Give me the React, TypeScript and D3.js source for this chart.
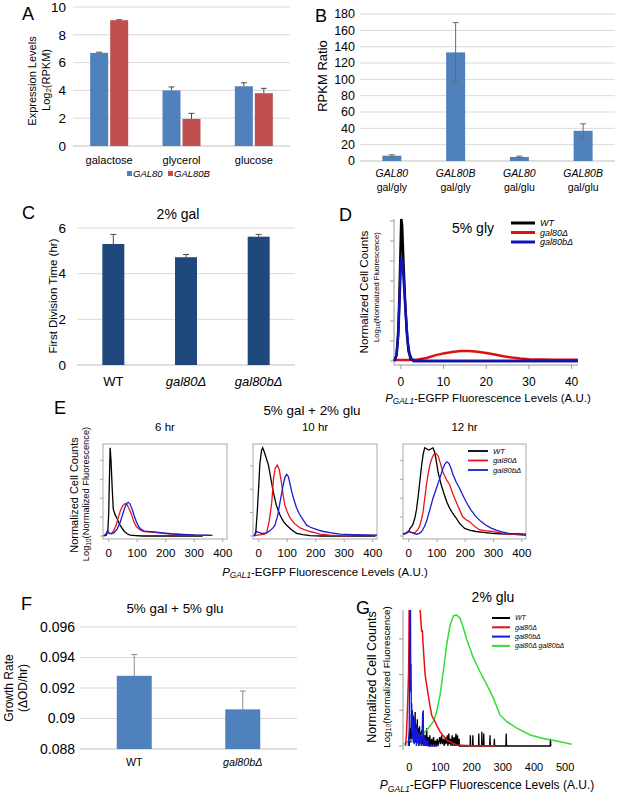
import React from "react";
import * as d3 from "d3";

const FONT = "'Liberation Sans', Arial, Helvetica, sans-serif";
const BLUE = "#4F81BD";
const RED = "#C0504D";
const NAVY = "#1F497D";
const GRID = "#D9D9D9";
const ERR = "#4a4a4a";

// ---------- Panel A ----------
const aCategories = ["galactose", "glycerol", "glucose"];
const aSeries = ["GAL80", "GAL80B"];
const aGal80 = [6.7, 4.0, 4.3];
const aGal80Err = [0.05, 0.25, 0.25];
const aGal80B = [9.05, 1.95, 3.8];
const aGal80BErr = [0.03, 0.4, 0.35];
const aTicks = [0, 2, 4, 6, 8, 10];

// ---------- Panel B ----------
const bGenes = ["GAL80", "GAL80B", "GAL80", "GAL80B"];
const bRatios = ["gal/gly", "gal/gly", "gal/glu", "gal/glu"];
const bValues = [6.5, 133, 5, 37];
const bErr = [1.2, 36.5, 1.0, 8.5];
const bTicks = [0, 20, 40, 60, 80, 100, 120, 140, 160, 180];

// ---------- Panel C ----------
const cStrains = ["WT", "gal80Δ", "gal80bΔ"];
const cValues = [5.3, 4.72, 5.62];
const cErr = [0.42, 0.12, 0.1];
const cTicks = [0, 2, 4, 6];

// ---------- Panel D ----------
const dTicks = [0, 10, 20, 30, 40];
const dYTicks = [0, 1, 2, 3, 4, 5, 6, 7];
const dWT: [number, number][] = [[-1.5, 0], [-1, 0.3], [-0.6, 1.5], [-0.3, 3.5], [0, 6.2], [0.1, 7.1], [0.3, 6.8], [0.6, 5.0], [1, 3.0], [1.4, 1.4], [1.8, 0.5], [2.3, 0.1], [3, 0], [41.5, 0]];
const dGal80: [number, number][] = [[-1.5, 0.05], [2, 0.05], [4, 0.07], [6, 0.15], [8, 0.28], [10, 0.38], [12, 0.45], [14, 0.5], [16, 0.5], [18, 0.46], [20, 0.4], [22, 0.32], [24, 0.24], [26, 0.17], [28, 0.12], [30, 0.09], [33, 0.07], [36, 0.06], [41.5, 0.06]];
const dGal80b: [number, number][] = [[-1.5, 0], [-1, 0.3], [-0.6, 1.3], [-0.3, 3.0], [0, 4.9], [0.2, 5.15], [0.4, 4.9], [0.8, 3.6], [1.2, 2.2], [1.6, 1.0], [2, 0.4], [2.5, 0.1], [3, 0], [41.5, 0]];

// ---------- Panel E ----------
const eTimes = ["6 hr", "10 hr", "12 hr"];
const eTicks = [0, 100, 200, 300, 400];
const e6YTicks = [0, 21, 42, 63, 84];
const e10YTicks = [0, 26, 52, 78];
const e12YTicks = [0, 21, 42, 63, 84];
const e6WT: [number, number][] = [[-15, 0], [-8, 1], [-3, 6], [0, 25], [3, 70], [5, 98], [8, 85], [12, 55], [16, 30], [22, 24], [30, 19], [38, 13], [46, 9], [55, 5], [65, 2.5], [75, 1], [95, 0.5], [120, 0], [330, 0]];
const e6Gal80: [number, number][] = [[-18, 0], [-10, 2], [-4, 5], [2, 3], [10, 3], [18, 6], [26, 12], [34, 21], [42, 29], [50, 34], [58, 36], [64, 35], [72, 30], [80, 24], [88, 16], [96, 11], [105, 8], [115, 6], [125, 5], [140, 4.5], [160, 4], [190, 3], [220, 2], [260, 1.5], [300, 1], [340, 0.8], [365, 0.6]];
const e6Gal80b: [number, number][] = [[-18, 0], [-10, 2], [-4, 6], [2, 3], [10, 2.5], [20, 4], [30, 8], [40, 15], [48, 23], [56, 31], [63, 36], [68, 37.5], [74, 36], [82, 30], [90, 22], [98, 15], [106, 10], [115, 7], [125, 5.5], [140, 5], [160, 4.5], [190, 3.5], [220, 2.5], [260, 1.8], [300, 1.2], [340, 0.9], [360, 0.8]];
const e10WT: [number, number][] = [[-15, 0], [-10, 5], [-5, 27], [0, 55], [4, 80], [10, 95], [14, 98], [20, 93], [28, 85], [34, 79], [42, 65], [51, 49], [62, 34], [75, 23], [87, 16], [98, 12], [115, 7], [133, 3], [155, 1.5], [180, 0.5], [220, 0], [410, 0]];
const e10Gal80: [number, number][] = [[-15, 0], [-5, 1], [10, 1.5], [20, 2], [28, 4], [36, 15], [42, 28], [46, 38], [52, 64], [58, 75], [65, 79], [72, 74], [81, 57], [86, 45], [92, 34], [100, 27], [110, 20], [125, 14], [145, 9], [160, 7], [180, 5], [200, 3.5], [215, 2], [250, 1], [285, 0.5], [330, 0.3]];
const e10Gal80b: [number, number][] = [[-18, 0], [-12, 2], [-7, 5], [0, 4], [10, 3], [20, 3], [28, 3.5], [40, 6], [50, 9], [57, 12], [66, 22], [75, 38], [86, 57], [93, 66], [98, 68.5], [104, 66], [110, 58], [116, 49], [124, 40], [133, 31], [142, 25], [151, 20], [160, 16], [168, 12], [180, 10], [192, 8.5], [210, 6.5], [227, 5], [255, 3.5], [285, 2], [330, 1.5], [380, 1.2], [415, 1]];
const e12WT: [number, number][] = [[-20, 2], [-10, 3], [0, 5], [5, 8.5], [14, 12], [22, 20], [28, 30], [34, 45], [40, 62], [46, 79], [52, 92], [57, 98], [63, 97], [72, 95.5], [80, 97], [86, 98], [92, 93], [98, 83], [104, 71], [115, 57], [127, 45], [136, 37], [145, 31], [156, 25], [168, 20], [180, 14], [198, 8.5], [215, 6.5], [238, 5], [265, 4], [295, 3], [325, 2.5], [354, 2], [385, 1.5], [415, 1]];
const e12Gal80: [number, number][] = [[-20, 2], [-10, 3.5], [0, 5.5], [10, 4], [22, 3.5], [32, 7], [40, 12], [46, 19], [51, 27], [57, 42], [63, 57], [69, 69], [75, 79], [83, 87], [90, 91], [96, 92], [104, 89], [112, 81], [121, 71], [133, 63], [145, 57], [156, 47], [168, 38], [180, 29], [192, 21], [203, 18], [215, 16], [232, 11], [250, 7], [270, 6], [295, 5], [325, 3.5], [354, 2], [385, 1.8], [415, 1.5]];
const e12Gal80b: [number, number][] = [[-20, 2], [-10, 3], [0, 5], [8, 4], [18, 3], [28, 2], [38, 3], [46, 5], [55, 10], [63, 16], [74, 28], [86, 42], [95, 50], [104, 58.5], [112, 66], [121, 75], [128, 80], [135, 82.5], [142, 81], [150, 75], [157, 68], [168, 60], [180, 53], [192, 45], [203, 38], [220, 29], [238, 21.5], [256, 16], [274, 12], [290, 9], [309, 6.5], [330, 4.5], [354, 3], [385, 2.5], [415, 2]];

// ---------- Panel F ----------
const fStrains = ["WT", "gal80bΔ"];
const fValues = [0.0928, 0.0906];
const fErr = [0.0014, 0.0012];
const fTicks = [0.088, 0.09, 0.092, 0.094, 0.096];
const fTickLabels = ["0.088", "0.09", "0.092", "0.094", "0.096"];

// ---------- Panel G ----------
const gTicks = [0, 100, 200, 300, 400, 500];
const gYTicks = [0, 1, 2, 3];
const gLegend = ["WT", "gal80Δ", "gal80bΔ", "gal80Δ gal80bΔ"];
const gWT: [number, number][] = [[0, 0], [3, 0.5], [5, 0.1], [7, 0.9], [8, 0.2], [10, 1.0], [11, 0.3], [13, 0.85], [14, 0.1], [16, 0.7], [17, 0.2], [19, 0.95], [20, 0.1], [22, 0.6], [24, 0.05], [26, 0.75], [27, 0.1], [29, 0.5], [31, 0], [33, 0.55], [35, 0.1], [37, 0.4], [39, 0], [41, 0.45], [43, 0.05], [46, 0.35], [48, 0], [51, 0.3], [53, 0], [56, 0.5], [58, 0], [61, 0.25], [63, 0], [66, 0.3], [68, 0], [72, 0.2], [74, 0], [78, 0.25], [80, 0], [84, 0.15], [86, 0], [90, 0.2], [92, 0], [98, 0.25], [100, 0.05], [104, 0.3], [106, 0.05], [110, 0.2], [112, 0], [116, 0.25], [118, 0.05], [122, 0.3], [124, 0], [127, 0.35], [129, 0.05], [132, 0.2], [134, 0], [138, 0.3], [140, 0], [144, 0.25], [146, 0], [150, 0.35], [151, 0], [155, 0.3], [156, 0], [160, 0.2], [161, 0], [195, 0], [196, 0.3], [197, 0], [203, 0], [204, 0.3], [205, 0], [222, 0], [223, 0.35], [224, 0], [232, 0], [233, 0.4], [234, 0], [238, 0], [239, 0.35], [240, 0], [258, 0], [259, 0.3], [260, 0], [272, 0], [273, 0.2], [274, 0], [310, 0], [311, 0.35], [312, 0], [452, 0], [453, 0.2], [454, 0]];
const gGal80: [number, number][] = [[-12, 0], [-9, 0.3], [-6, 0.96], [-4, 1.5], [-2, 2.1], [-1, 3], [0, 4.2], [10, 5.5], [25, 5], [35, 3.85], [38, 3.4], [40, 3.2], [42, 3.25], [44, 2.9], [47, 2.5], [51, 2.0], [56, 1.7], [61, 1.43], [66, 1.15], [72, 0.87], [76, 0.78], [80, 0.74], [83, 0.68], [90, 0.55], [99, 0.4], [110, 0.28], [120, 0.17], [135, 0.1], [152, 0.03], [200, 0.01], [275, 0.01]];
const gGal80b: [number, number][] = [[-3, 0], [0, 0.5], [1, 2], [2, 4.2], [4, 4.2], [5, 1.5], [6, 2.3], [7, 0.4], [8, 1.2], [10, 0.2], [11, 0.9], [13, 0.1], [14, 0.7], [16, 0.05], [18, 0.8], [19, 0.1], [21, 0.5], [23, 0], [25, 0.6], [27, 0.1], [29, 0.35], [31, 0], [33, 0.4], [35, 0.05], [38, 0.3], [40, 0], [43, 0.9], [45, 1.0], [46, 0], [48, 0.3], [50, 0], [54, 0.2], [56, 0], [60, 0.15], [62, 0], [70, 0], [90, 0]];
const gDouble: [number, number][] = [[-17, 0.05], [3, 0.17], [35, 0.26], [61, 0.5], [77, 0.68], [88, 0.96], [99, 1.43], [109, 2.08], [120, 2.83], [131, 3.39], [142, 3.65], [152, 3.67], [163, 3.58], [174, 3.3], [184, 3.0], [206, 2.46], [227, 2.08], [249, 1.71], [270, 1.34], [291, 0.87], [313, 0.68], [345, 0.5], [388, 0.31], [430, 0.21], [473, 0.14], [521, 0.05]];

// ---------- helpers ----------
function ErrUp({ x, y0, y1, cap = 3 }: { x: number; y0: number; y1: number; cap?: number }) {
  return (
    <g stroke={ERR} strokeWidth={1}>
      <line x1={x} x2={x} y1={y0} y2={y1} />
      <line x1={x - cap} x2={x + cap} y1={y1} y2={y1} />
    </g>
  );
}

function PanelLetter({ x, y, t }: { x: number; y: number; t: string }) {
  return <text x={x} y={y} fontSize={18}>{t}</text>;
}

function Rot({ x, y, size, children, style }: any) {
  return (
    <text transform={`translate(${x},${y}) rotate(-90)`} textAnchor="middle" dominantBaseline="central" fontSize={size} style={style}>
      {children}
    </text>
  );
}

function PgalTitle({ x, y, size }: { x: number; y: number; size: number }) {
  return (
    <text x={x} y={y} textAnchor="middle" fontSize={size}>
      <tspan fontStyle="italic">P</tspan>
      <tspan fontStyle="italic" fontSize={size * 0.72} dy="0.3em">GAL1</tspan>
      <tspan dy={`${-0.3 * 0.72}em`}>-EGFP Fluorescence Levels (A.U.)</tspan>
    </text>
  );
}

function LogTitle({ x, y, size }: { x: number; y: number; size: number }) {
  return (
    <Rot x={x} y={y} size={size}>
      <tspan>Log</tspan>
      <tspan fontSize={size * 0.7} dy="0.3em">10</tspan>
      <tspan dy="-0.21em">(Normalized Fluorescence)</tspan>
    </Rot>
  );
}

// ---------- panels ----------
function PanelA() {
  const x0 = d3.scaleBand().domain(aCategories).range([73, 290]);
  const x1 = d3.scaleBand().domain(aSeries).range([0, 38]).paddingInner(0.1);
  const y = d3.scaleLinear().domain([0, 10]).range([146, 7]);
  const series = [
    { name: "GAL80", vals: aGal80, err: aGal80Err, color: BLUE },
    { name: "GAL80B", vals: aGal80B, err: aGal80BErr, color: RED },
  ];
  return (
    <g>
      <PanelLetter x={22} y={20} t="A" />
      {aTicks.map((t) => (
        <g key={t}>
          <line x1={73} x2={290} y1={y(t)} y2={y(t)} stroke={t === 0 ? "#BFBFBF" : GRID} />
          <text x={66} y={y(t)} dy="0.35em" textAnchor="end" fontSize={13.5}>{t}</text>
        </g>
      ))}
      {aCategories.map((c, i) => {
        const cx = x0(c)! + x0.bandwidth() / 2;
        return (
          <g key={c}>
            {series.map((s) => {
              const bx = cx - 19 + x1(s.name)!;
              return (
                <g key={s.name}>
                  <rect x={bx} y={y(s.vals[i])} width={x1.bandwidth()} height={y(0) - y(s.vals[i])} fill={s.color} />
                  <ErrUp x={bx + x1.bandwidth() / 2} y0={y(s.vals[i])} y1={y(s.vals[i] + s.err[i])} />
                </g>
              );
            })}
            <text x={cx} y={164} textAnchor="middle" fontSize={11}>{c}</text>
          </g>
        );
      })}
      <Rot x={32} y={81} size={11}>Expression Levels</Rot>
      <Rot x={46} y={80} size={11}>
        <tspan>Log</tspan>
        <tspan fontSize={8} dy="0.3em">2</tspan>
        <tspan dy="-0.22em">(RPKM)</tspan>
      </Rot>
      <g fontSize={9.5} fontStyle="italic">
        <rect x={127} y={171} width={5} height={5} fill={BLUE} />
        <text x={133} y={177}>{aSeries[0]}</text>
        <rect x={168} y={171} width={5} height={5} fill={RED} />
        <text x={174} y={177}>{aSeries[1]}</text>
      </g>
    </g>
  );
}

function PanelB() {
  const idx = bValues.map((_, i) => String(i));
  const x = d3.scaleBand().domain(idx).range([360, 615]);
  const y = d3.scaleLinear().domain([0, 180]).range([161, 14]);
  const bw = 19;
  return (
    <g>
      <PanelLetter x={315} y={22} t="B" />
      {bTicks.map((t) => (
        <g key={t}>
          <line x1={360} x2={615} y1={y(t)} y2={y(t)} stroke={t === 0 ? "#BFBFBF" : GRID} />
          <text x={355} y={y(t)} dy="0.35em" textAnchor="end" fontSize={12.5}>{t}</text>
        </g>
      ))}
      {bValues.map((v, i) => {
        const cx = x(String(i))! + x.bandwidth() / 2;
        return (
          <g key={i}>
            <rect x={cx - bw / 2} y={y(v)} width={bw} height={y(0) - y(v)} fill={BLUE} />
            <g stroke="#6a6a6a" strokeWidth={1}>
              <line x1={cx} x2={cx} y1={y(v - bErr[i])} y2={y(v + bErr[i])} />
              <line x1={cx - 3} x2={cx + 3} y1={y(v + bErr[i])} y2={y(v + bErr[i])} />
              <line x1={cx - 3} x2={cx + 3} y1={y(v - bErr[i])} y2={y(v - bErr[i])} />
            </g>
            <text x={cx} y={177} textAnchor="middle" fontSize={10.5} fontStyle="italic">{bGenes[i]}</text>
            <text x={cx} y={191} textAnchor="middle" fontSize={10.5}>{bRatios[i]}</text>
          </g>
        );
      })}
      <Rot x={322} y={76} size={13}>RPKM Ratio</Rot>
    </g>
  );
}

function PanelC() {
  const x = d3.scaleBand().domain(cStrains).range([77, 295]);
  const y = d3.scaleLinear().domain([0, 6]).range([365, 228]);
  const bw = 22;
  return (
    <g>
      <PanelLetter x={22} y={219} t="C" />
      <text x={178} y={219} textAnchor="middle" fontSize={14}>2% gal</text>
      {cTicks.map((t) => (
        <g key={t}>
          <line x1={77} x2={295} y1={y(t)} y2={y(t)} stroke={t === 0 ? "#BFBFBF" : GRID} />
          <text x={66} y={y(t)} dy="0.35em" textAnchor="end" fontSize={13.5}>{t}</text>
        </g>
      ))}
      {cStrains.map((s, i) => {
        const cx = x(s)! + x.bandwidth() / 2;
        return (
          <g key={s}>
            <rect x={cx - bw / 2} y={y(cValues[i])} width={bw} height={y(0) - y(cValues[i])} fill={NAVY} />
            <ErrUp x={cx} y0={y(cValues[i])} y1={y(cValues[i] + cErr[i])} />
            <text x={cx} y={386} textAnchor="middle" fontSize={13} fontStyle={i === 0 ? "normal" : "italic"}>{s}</text>
          </g>
        );
      })}
      <Rot x={53} y={296} size={11.5}>First Division Time (hr)</Rot>
    </g>
  );
}

function Legend({ x, y, dy, len, labels, colors, size, width }: any) {
  return (
    <g>
      {labels.map((l: string, i: number) => (
        <g key={i}>
          <line x1={x} x2={x + len} y1={y + i * dy} y2={y + i * dy} stroke={colors[i]} strokeWidth={width} />
          <text x={x + len + 5} y={y + i * dy} dy="0.35em" fontSize={size} fontStyle="italic">{l}</text>
        </g>
      ))}
    </g>
  );
}

function PanelD() {
  const x = d3.scaleLinear().domain([-1.6, 41.5]).range([394, 578]);
  const y = d3.scaleLinear().domain([0, 7]).range([361, 221]);
  const line = d3.line<[number, number]>().x((d) => x(d[0])).y((d) => y(d[1]));
  const AX = "#9a9a9a";
  return (
    <g>
      <PanelLetter x={339} y={221} t="D" />
      <line x1={394} x2={394} y1={219} y2={365} stroke={AX} />
      <line x1={394} x2={578} y1={365} y2={365} stroke={AX} />
      {dYTicks.map((t) => (
        <line key={t} x1={390} x2={394} y1={y(t)} y2={y(t)} stroke={AX} />
      ))}
      {dTicks.map((t) => (
        <g key={t}>
          <line x1={x(t)} x2={x(t)} y1={365} y2={369} stroke={AX} />
          <text x={x(t)} y={386} textAnchor="middle" fontSize={12}>{t}</text>
        </g>
      ))}
      <path d={line(dGal80)!} fill="none" stroke="#E01010" strokeWidth={2.5} />
      <path d={line(dWT)!} fill="none" stroke="#000" strokeWidth={2.5} />
      <path d={line(dGal80b)!} fill="none" stroke="#1212B8" strokeWidth={2.5} />
      <text x={473} y={233} textAnchor="middle" fontSize={14}>5% gly</text>
      <Legend x={511} y={223} dy={9.5} len={24} labels={["WT", "gal80Δ", "gal80bΔ"]} colors={["#000", "#E01010", "#1212B8"]} size={9} width={3} />
      <Rot x={363} y={292} size={11.7}>Normalized Cell Counts</Rot>
      <LogTitle x={376} y={287} size={7.6} />
      <PgalTitle x={488} y={402} size={11.5} />
    </g>
  );
}

function EBox({ x0, x1, title, data, yTicks, legend }: any) {
  const top = 444, bot = 539;
  const x = d3.scaleLinear().domain([-20, 415]).range([x0, x1]);
  const y = d3.scaleLinear().domain([0, 100]).range([536, 446]);
  const line = d3.line<[number, number]>().x((d) => x(d[0])).y((d) => y(d[1]));
  const AX = "#a8a8a8";
  const colors = ["#000", "#E8141C", "#1B1BD6"];
  return (
    <g>
      <text x={(x0 + x1) / 2} y={431} textAnchor="middle" fontSize={11.5}>{title}</text>
      <rect x={x0} y={top} width={x1 - x0} height={bot - top} fill="none" stroke={AX} />
      {yTicks.map((t: number) => (
        <line key={t} x1={x0 - 3} x2={x0} y1={y(t)} y2={y(t)} stroke={AX} />
      ))}
      {eTicks.map((t) => (
        <g key={t}>
          <line x1={x(t)} x2={x(t)} y1={bot} y2={bot + 3} stroke={AX} />
          <text x={x(t)} y={557} textAnchor="middle" fontSize={11.5}>{t}</text>
        </g>
      ))}
      {data.map((d: [number, number][], i: number) => (
        <path key={i} d={line(d)!} fill="none" stroke={colors[i]} strokeWidth={1.3} />
      ))}
      {legend && (
        <Legend x={468} y={451} dy={9.5} len={20} labels={["WT", "gal80Δ", "gal80bΔ"]} colors={colors} size={7.7} width={1.8} />
      )}
    </g>
  );
}

function PanelE() {
  return (
    <g>
      <PanelLetter x={54} y={414} t="E" />
      <text x={312} y={415} textAnchor="middle" fontSize={13.4}>5% gal + 2% glu</text>
      <EBox x0={103} x1={227} title={eTimes[0]} data={[e6WT, e6Gal80, e6Gal80b]} yTicks={e6YTicks} />
      <EBox x0={253} x1={377} title={eTimes[1]} data={[e10WT, e10Gal80, e10Gal80b]} yTicks={e10YTicks} />
      <EBox x0={403} x1={526} title={eTimes[2]} data={[e12WT, e12Gal80, e12Gal80b]} yTicks={e12YTicks} legend />
      <Rot x={74} y={495} size={11}>Normalized Cell Counts</Rot>
      <LogTitle x={86} y={494} size={9.3} />
      <PgalTitle x={325} y={576} size={11.5} />
    </g>
  );
}

function PanelF() {
  const x = d3.scaleBand().domain(fStrains).range([80, 297]);
  const y = d3.scaleLinear().domain([0.088, 0.096]).range([749, 627]);
  const bw = 35;
  return (
    <g>
      <PanelLetter x={21} y={610} t="F" />
      <text x={175} y={613} textAnchor="middle" fontSize={13.4}>5% gal + 5% glu</text>
      {fTicks.map((t, i) => (
        <g key={t}>
          <line x1={80} x2={297} y1={y(t)} y2={y(t)} stroke={i === 0 ? "#BFBFBF" : GRID} />
          <text x={75} y={y(t)} dy="0.35em" textAnchor="end" fontSize={14}>{fTickLabels[i]}</text>
        </g>
      ))}
      {fStrains.map((s, i) => {
        const cx = x(s)! + x.bandwidth() / 2;
        return (
          <g key={s}>
            <rect x={cx - bw / 2} y={y(fValues[i])} width={bw} height={y(0.088) - y(fValues[i])} fill={BLUE} />
            <g stroke="#8a8a8a" strokeWidth={1}>
              <line x1={cx} x2={cx} y1={y(fValues[i])} y2={y(fValues[i] + fErr[i])} />
              <line x1={cx - 3} x2={cx + 3} y1={y(fValues[i] + fErr[i])} y2={y(fValues[i] + fErr[i])} />
            </g>
            <text x={cx} y={766} textAnchor="middle" fontSize={10.7} fontStyle={i === 0 ? "normal" : "italic"}>{s}</text>
          </g>
        );
      })}
      <Rot x={9} y={688} size={12}>Growth Rate</Rot>
      <Rot x={23} y={688} size={12}>(ΔOD/hr)</Rot>
    </g>
  );
}

function PanelG() {
  const x = d3.scaleLinear().domain([-20, 522]).range([403, 572]);
  const y = d3.scaleLinear().domain([0, 1]).range([746, 710.3]);
  const line = d3.line<[number, number]>().x((d) => x(d[0])).y((d) => y(d[1]));
  const AX = "#9a9a9a";
  const colors = ["#000", "#E81010", "#1515E0", "#33DD33"];
  return (
    <g>
      <defs>
        <clipPath id="gclip">
          <rect x={400} y={610} width={176} height={145} />
        </clipPath>
      </defs>
      <PanelLetter x={356} y={614} t="G" />
      <text x={493} y={602} textAnchor="middle" fontSize={14}>2% glu</text>
      <line x1={403} x2={403} y1={610} y2={750} stroke={AX} />
      {gYTicks.map((t) => (
        <line key={t} x1={399} x2={403} y1={y(t)} y2={y(t)} stroke={AX} />
      ))}
      {gTicks.map((t) => (
        <text key={t} x={x(t)} y={771} textAnchor="middle" fontSize={11}>{t}</text>
      ))}
      <g clipPath="url(#gclip)">
        <path d={line(gWT)!} fill="none" stroke={colors[0]} strokeWidth={1.3} />
        <path d={line(gDouble)!} fill="none" stroke={colors[3]} strokeWidth={1.5} />
        <path d={line(gGal80)!} fill="none" stroke={colors[1]} strokeWidth={1.5} />
        <path d={line(gGal80b)!} fill="none" stroke={colors[2]} strokeWidth={1.3} />
      </g>
      <Legend x={492} y={618} dy={9.3} len={18} labels={gLegend} colors={colors} size={7} width={2} />
      <Rot x={372} y={677} size={12.5}>Normalized Cell Counts</Rot>
      <LogTitle x={386} y={677} size={9.8} />
      <PgalTitle x={487} y={789} size={12} />
    </g>
  );
}

export default function App() {
  return (
    <svg width={617} height={794} style={{ position: "absolute", left: 0, top: 0, background: "#fff" }} fontFamily={FONT}>
      <rect width={617} height={794} fill="#fff" />
      <PanelA />
      <PanelB />
      <PanelC />
      <PanelD />
      <PanelE />
      <PanelF />
      <PanelG />
    </svg>
  );
}
